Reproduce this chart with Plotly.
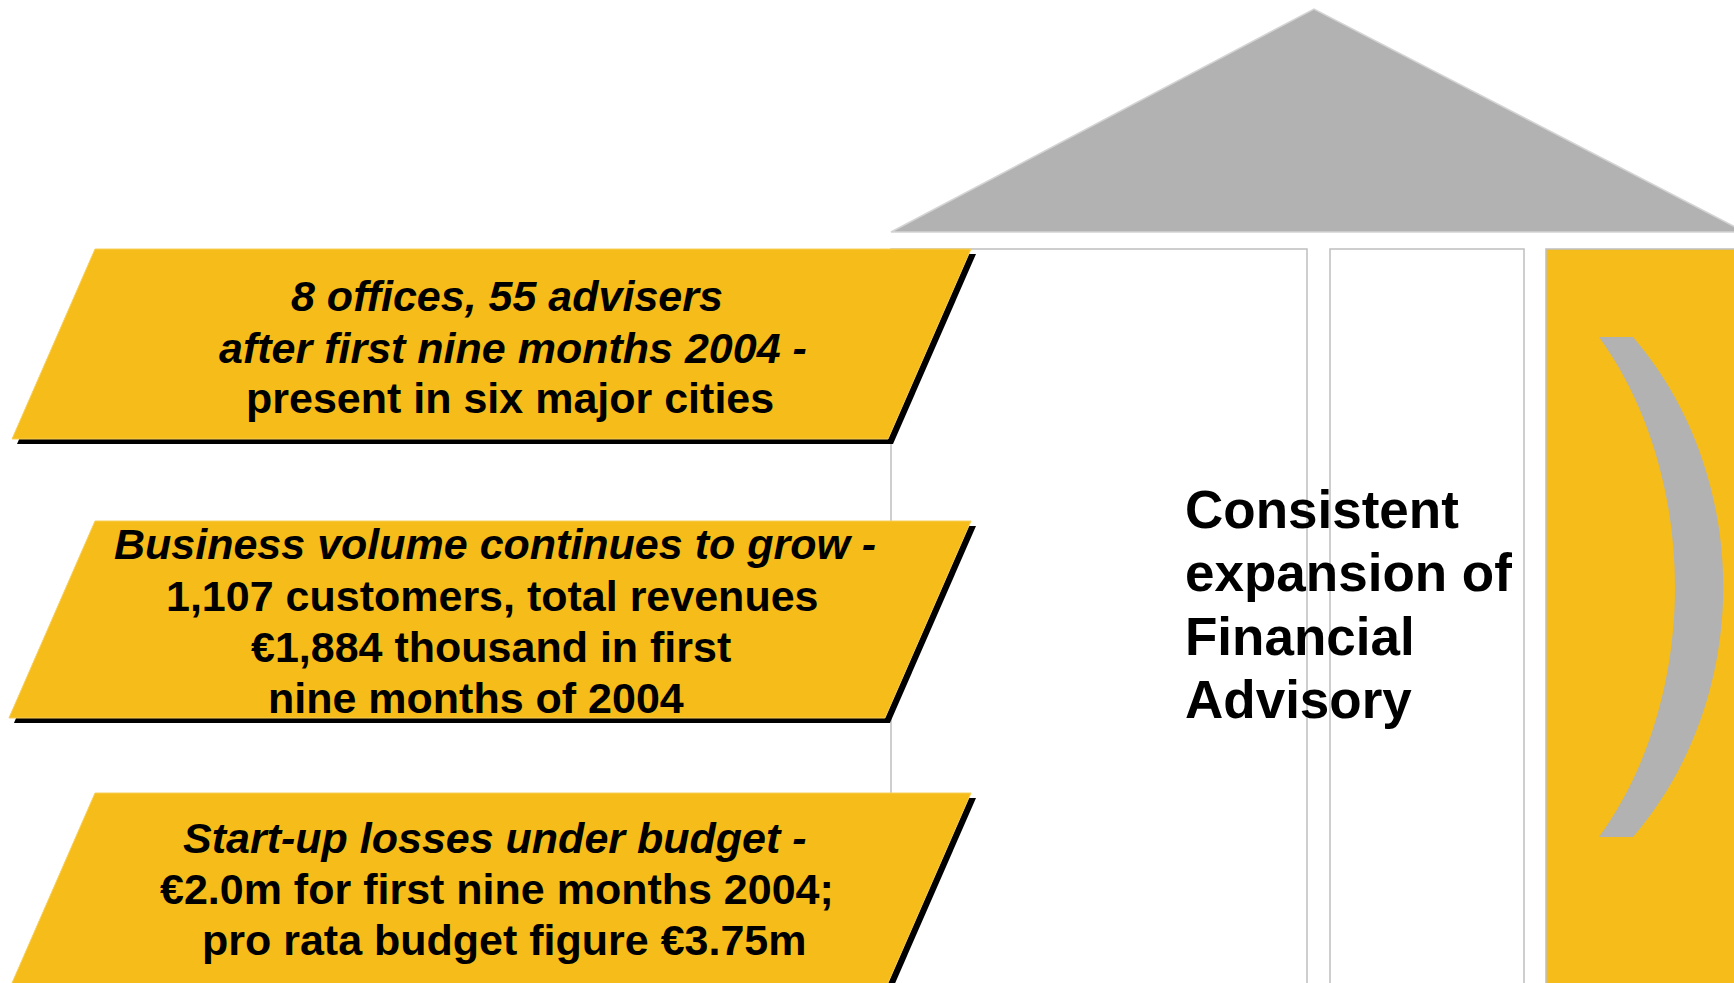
import plotly.graph_objects as go

# ---- content ----
banner_lines = [
    ["8 offices, 55 advisers", "after first nine months 2004 -", "present in six major cities"],
    ["Business volume continues to grow -", "1,107 customers, total revenues",
     "€1,884 thousand in first", "nine months of 2004"],
    ["Start-up losses under budget -", "€2.0m for first nine months 2004;",
     "pro rata budget figure €3.75m"],
]
banner_italic = [
    [True, True, False],
    [True, False, False, False],
    [True, False, False],
]
banner_line_y = [
    [296, 348, 398],
    [544, 596, 647, 698],
    [838, 889, 940],
]
banner_line_x = [
    [507, 513, 510],
    [495, 492, 491, 476],
    [495, 497, 504],
]
banner_top = [249, 521, 793]
banner_bottom = [439, 718, 990]

main_lines = ["Consistent", "expansion of", "Financial", "Advisory"]
main_y = [509, 572, 636, 699]

W, H = 1734, 983
YELLOW = "#F5BC1A"
GRAY = "#B2B2B2"
EDGE = "#BEBEBE"
FONT = "Liberation Sans, Arial, sans-serif"

shapes = []

# roof
shapes.append(dict(type="path", path="M 891 232 L 1314 9 L 1745 232 Z",
                   fillcolor=GRAY, line=dict(color="#D4D4D4", width=1.5), layer="above"))
# columns
shapes.append(dict(type="rect", x0=891, x1=1307, y0=249, y1=1000,
                   fillcolor="white", line=dict(color=EDGE, width=1.5), layer="above"))
shapes.append(dict(type="rect", x0=1330, x1=1524, y0=249, y1=1000,
                   fillcolor="white", line=dict(color=EDGE, width=1.5), layer="above"))
shapes.append(dict(type="rect", x0=1546, x1=1760, y0=249, y1=1000,
                   fillcolor=YELLOW, line=dict(color=EDGE, width=1.5), layer="above"))
# crescent
top, bot = 337, 837
c1, c2 = top + 140, bot - 140
outer_c = (1723 - 0.25 * 1632) / 0.75
inner_c = (1675 - 0.25 * 1599) / 0.75
crescent = (f"M 1599 {top} L 1633 {top} C {outer_c} {c1} {outer_c} {c2} 1633 {bot} "
            f"L 1599 {bot} C {inner_c} {c2} {inner_c} {c1} 1599 {top} Z")
shapes.append(dict(type="path", path=crescent, fillcolor=GRAY,
                   line=dict(width=0), layer="above"))

# banners
for t, b in zip(banner_top, banner_bottom):
    slope = (971 - 888) / (439 - 249)
    tl, tr = 95, 971
    bl, br = tl - slope * (b - t), tr - slope * (b - t)
    sh = 5
    shapes.append(dict(type="path",
                       path=f"M {tl+sh} {t+sh} L {tr+sh} {t+sh} L {br+sh} {b+sh} L {bl+sh} {b+sh} Z",
                       fillcolor="black", line=dict(width=0), layer="above"))
    shapes.append(dict(type="path",
                       path=f"M {tl} {t} L {tr} {t} L {br} {b} L {bl} {b} Z",
                       fillcolor=YELLOW, line=dict(color="#F8CF5A", width=1), layer="above"))

annotations = []
for lines, ys, xs, its in zip(banner_lines, banner_line_y, banner_line_x, banner_italic):
    for txt, y, x, it in zip(lines, ys, xs, its):
        s = f"<b><i>{txt}</i></b>" if it else f"<b>{txt}</b>"
        annotations.append(dict(x=x, y=y, xref="x", yref="y", text=s, showarrow=False,
                                xanchor="center", yanchor="middle",
                                font=dict(family=FONT, size=43, color="black")))
for txt, y in zip(main_lines, main_y):
    annotations.append(dict(x=1183, y=y, xref="x", yref="y", text=f"<b>{txt}</b>",
                            showarrow=False, xanchor="left", yanchor="middle",
                            font=dict(family=FONT, size=53, color="black")))

fig = go.Figure()
fig.update_layout(
    width=W, height=H, margin=dict(l=0, r=0, t=0, b=0),
    paper_bgcolor="white", plot_bgcolor="white",
    xaxis=dict(range=[0, W], visible=False, fixedrange=True),
    yaxis=dict(range=[H, 0], visible=False, fixedrange=True),
    shapes=shapes, annotations=annotations, showlegend=False,
)
fig.write_html(
    "out.html",
    config={"displayModeBar": False},
    post_script="document.body.style.margin='0';document.body.style.overflow='hidden';",
)
